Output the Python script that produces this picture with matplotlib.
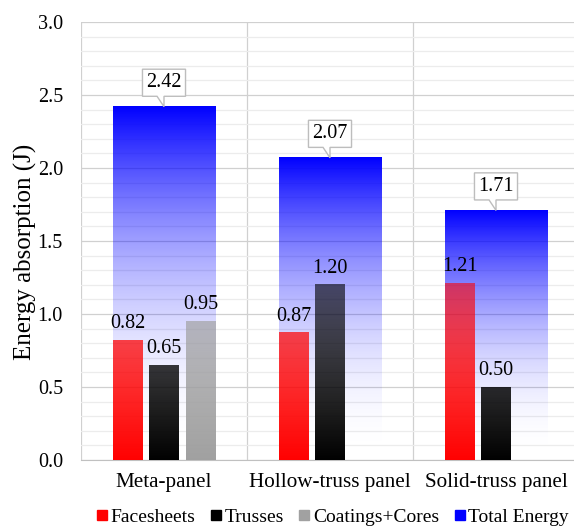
import numpy as np
import matplotlib.pyplot as plt
import matplotlib.transforms as mtransforms
from matplotlib.lines import Line2D
from matplotlib.patches import Polygon

plt.rcParams['font.family'] = ['Liberation Serif', 'DejaVu Serif']

# Datos de absorción de energía (J)
paneles = ["Meta-panel", "Hollow-truss panel", "Solid-truss panel"]
facesheets = [0.82, 0.87, 1.21]
trusses = [0.65, 1.20, 0.50]
coatings = [0.95, 0.0, 0.0]
total = [2.42, 2.07, 1.71]

series = [("Facesheets", facesheets, (1.0, 0.0, 0.0)),
          ("Trusses", trusses, (0.0, 0.0, 0.0)),
          ("Coatings+Cores", coatings, (0.63, 0.63, 0.63))]
azul = (0.0, 0.0, 1.0)
fs = 14.5

fig = plt.figure(figsize=(5.74, 5.32), dpi=100)
ax = fig.add_axes([0.1411, 0.1353, 0.8676, 0.8233])

ymax = 3.0
x = np.arange(len(paneles))
ancho_total = 0.62
ancho = 0.175
desp = 0.22
n = 256


def barra_gradiente(x0, x1, h, color, alphas, z):
    rgba = np.zeros((len(alphas), 1, 4))
    rgba[:, 0, :3] = color
    rgba[:, 0, 3] = alphas
    ax.imshow(rgba, extent=[x0, x1, 0, h], origin='lower', aspect='auto',
              interpolation='bilinear', zorder=z)


def globo(xi, v):
    # recuadro con punta que señala la parte superior de la barra (en puntos)
    w, h, g = 31, 19.5, 7.5
    contorno = [(0, 0), (-5, g), (-w / 2, g), (-w / 2, g + h), (w / 2, g + h),
                (w / 2, g), (0, g)]
    tr = (mtransforms.Affine2D().scale(1 / 72) + fig.dpi_scale_trans
          + mtransforms.ScaledTranslation(xi, v, ax.transData))
    ax.add_patch(Polygon(contorno, closed=True, fc='white', ec='#bdbdbd', lw=1.0,
                         transform=tr, zorder=5, clip_on=False))
    ax.annotate(f"{v:.2f}", xy=(xi, v), xytext=(0, g + h / 2), textcoords='offset points',
                ha='center', va='center', fontsize=fs, zorder=6)


# Barras de energía total: azul arriba, transparente abajo
for xi, t in zip(x, total):
    f = np.linspace(0, 1, n)
    barra_gradiente(xi - ancho_total / 2, xi + ancho_total / 2, t, azul, f ** 2, 2)
    globo(xi, t)

# Barras de cada componente (transparencia según la altura)
for k, (nombre, vals, color) in enumerate(series):
    for xi, v in zip(x, vals):
        if v <= 0:
            continue
        xc = xi + (k - 1) * desp
        y = np.linspace(0, v, n)
        barra_gradiente(xc - ancho / 2, xc + ancho / 2, v, color, 1 - y / ymax, 3)
        ax.annotate(f"{v:.2f}", xy=(xc, v), xytext=(0, 5), textcoords='offset points',
                    ha='center', va='bottom', fontsize=fs, zorder=6)

ax.set_xlim(-0.5, len(paneles) - 0.5)
ax.set_ylim(0, ymax)

ax.set_yticks(np.arange(0, ymax + 0.01, 0.5))
ax.set_yticks(np.arange(0, ymax + 0.01, 0.1), minor=True)
ax.set_yticklabels([f"{v:.1f}" for v in np.arange(0, ymax + 0.01, 0.5)])
ax.set_xticks(x)
ax.set_xticklabels(paneles)
ax.set_xticks(np.arange(-0.5, len(paneles)), minor=True)

ax.grid(True, which='major', axis='y', color='#d0d0d0', lw=0.9)
ax.grid(True, which='minor', axis='y', color='#ececec', lw=0.9)
ax.grid(True, which='minor', axis='x', color='#d0d0d0', lw=0.9)
ax.set_axisbelow(True)

for s in ['top', 'right', 'left']:
    ax.spines[s].set_visible(False)
ax.spines['bottom'].set_color('#c0c0c0')

ax.tick_params(axis='y', which='both', length=0, labelsize=fs, pad=13)
ax.tick_params(axis='x', which='major', direction='in', length=3, color='#d0d0d0',
               labelsize=15.2, pad=9)
ax.tick_params(axis='x', which='minor', length=0)

ax.set_ylabel("Energy absorption (J)", fontsize=18)
ax.yaxis.set_label_coords(-0.088, 0.476)

handles = [Line2D([], [], ls='none', marker='s', ms=7, mfc=c, mec=c) for _, _, c in series]
handles.append(Line2D([], [], ls='none', marker='s', ms=7, mfc=azul, mec=azul))
etiquetas = [s[0] for s in series] + ["Total Energy"]
fig.legend(handles, etiquetas, loc='center', bbox_to_anchor=(0.581, 0.028), ncol=4,
           frameon=False, fontsize=14, handlelength=0.4, handletextpad=0.25,
           columnspacing=0.85, borderpad=0.1, borderaxespad=0)

fig.savefig("out.png", dpi=100)
